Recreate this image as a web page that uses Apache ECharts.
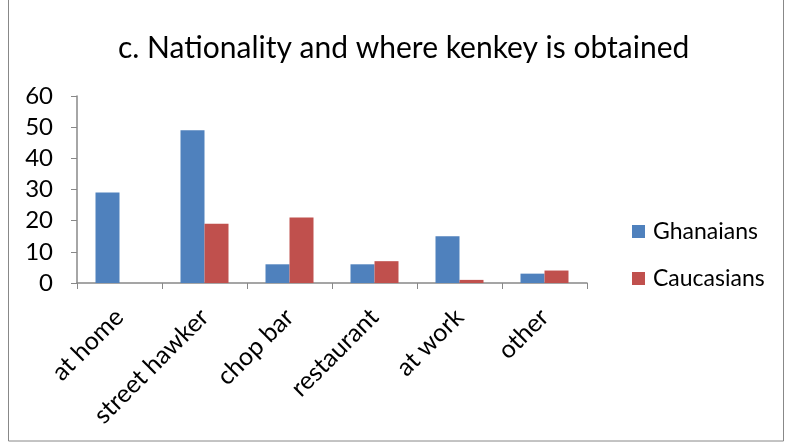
<!DOCTYPE html>
<html><head><meta charset="utf-8">
<script src="https://cdn.jsdelivr.net/npm/echarts@6/dist/echarts.min.js"></script>
<style>html,body{margin:0;padding:0;background:#fff}#c{width:788px;height:443px}</style>
</head><body><div id="c"></div>
<script>
const categories = ['at home','street hawker','chop bar','restaurant','at work','other'];
const ghanaians = [29,49,6,6,15,3];
const caucasians = [0,19,21,7,1,4];
const yTicks = [0,10,20,30,40,50,60];
const FONT = 'Lato, "Open Sans", sans-serif';
const chart = echarts.init(document.getElementById('c'));
chart.setOption({
  animation:false,
  graphic:[{type:'rect',shape:{x:8.5,y:-1,width:775,height:442},style:{fill:'none',stroke:'#888',lineWidth:1},z:-1}],
  title:{text:'c. Nationality and where kenkey is obtained',left:113,top:28,
    textStyle:{fontFamily:FONT,fontSize:30,fontWeight:'normal',color:'#000'}},
  legend:{orient:'vertical',left:632,top:220,padding:0,itemWidth:13,itemHeight:13,itemGap:24,
    icon:'rect',textStyle:{fontFamily:FONT,fontSize:23,color:'#000',padding:[0,0,0,3]},
    data:['Ghanaians','Caucasians']},
  grid:{left:77,right:201,top:96,bottom:160},
  xAxis:{type:'category',data:categories,
    axisLine:{lineStyle:{color:'#888',width:1.5}},
    axisTick:{show:true,length:6,lineStyle:{color:'#888'}},
    axisLabel:{rotate:45,fontFamily:FONT,fontSize:25,color:'#000',margin:30,interval:0}},
  yAxis:{type:'value',min:0,max:60,interval:10,
    axisLine:{show:true,lineStyle:{color:'#888',width:1.5}},
    axisTick:{show:true,length:6,lineStyle:{color:'#888'}},
    splitLine:{show:false},
    axisLabel:{fontFamily:FONT,fontSize:24,color:'#000',margin:24,
      formatter:v=>yTicks.includes(v)?String(v):''}},
  series:[
    {name:'Ghanaians',type:'bar',data:ghanaians,barWidth:24,barGap:'0%',
      itemStyle:{color:'#4f81bd'}},
    {name:'Caucasians',type:'bar',data:caucasians,barWidth:24,
      itemStyle:{color:'#c0504d'}}
  ]
});
</script></body></html>
